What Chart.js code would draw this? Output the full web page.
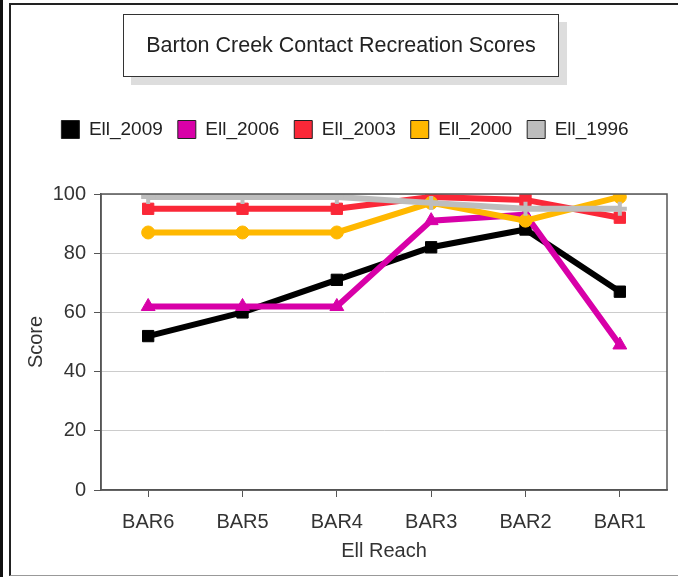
<!DOCTYPE html>
<html>
<head>
<meta charset="utf-8">
<script src="https://cdn.jsdelivr.net/npm/chart.js@4"></script>
<style>
  body { margin: 0; background: #fff; font-family: "Liberation Sans", Arial, sans-serif; }
  #page { position: relative; width: 678px; height: 577px; overflow: hidden; }
  #outerLine { position: absolute; left: 0; top: 0; width: 3px; height: 577px; background: #111; }
  #innerFrame {
    position: absolute; left: 9px; top: 3px; width: 700px; height: 570px;
    border-left: 2px solid #222; border-top: 2px solid #222; border-bottom: 1px solid #999;
  }
  #titleBox {
    position: absolute; left: 123px; top: 14px; width: 434px; height: 61px;
    border: 1px solid #333; background: #fff; box-shadow: 8px 8px 0 #ddd;
    font-size: 21.5px; color: #222; text-align: center; line-height: 61px; white-space: nowrap;
  }
  #wrap { position: absolute; left: 0; top: 0; width: 678px; height: 577px; }
</style>
</head>
<body>
<div id="page">
  <div id="outerLine"></div>
  <div id="innerFrame"></div>
  <div id="wrap"><canvas id="chart"></canvas></div>
  <div id="titleBox">Barton Creek Contact Recreation Scores</div>
</div>
<script>
'use strict';

const reaches = ['BAR6', 'BAR5', 'BAR4', 'BAR3', 'BAR2', 'BAR1'];
const ell2009 = [52, 60, 71, 82, 88, 67];
const ell2006 = [62, 62, 62, 91, 93, 49];
const ell2003 = [95, 95, 95, 99, 98, 92];
const ell2000 = [87, 87, 87, 97, 91, 99];
const ell1996 = [99, 99, 99, 97, 95, 95];

const series = [
  { label: 'Ell_2009', data: ell2009, color: '#000000', point: 'rect', radius: 8 },
  { label: 'Ell_2006', data: ell2006, color: '#d800a8', point: 'triangle', radius: 8 },
  { label: 'Ell_2003', data: ell2003, color: '#fa2838', point: 'rect', radius: 8 },
  { label: 'Ell_2000', data: ell2000, color: '#ffb800', point: 'circle', radius: 6.5 },
  { label: 'Ell_1996', data: ell1996, color: '#bdbdbd', point: 'cross', radius: 7 },
];

const font = "'Liberation Sans', Arial, sans-serif";
const legendGap = 45; // extra room between legend and plot

// frame round the plot area
const plotBox = {
  id: 'plotBox',
  beforeLayout(chart) {
    const lg = chart.legend;
    if (lg && !lg._spaced) {
      const fit = lg.fit.bind(lg);
      lg.fit = function () { fit(); this.height += legendGap; };
      lg._spaced = true;
    }
  },
  afterDraw(chart) {
    const { ctx, chartArea: a } = chart;
    ctx.save();
    ctx.strokeStyle = '#555';
    ctx.lineWidth = 1.5;
    ctx.strokeRect(a.left, a.top, a.right - a.left, a.bottom - a.top);
    ctx.restore();
  }
};

new Chart('chart', {
  type: 'line',
  data: {
    labels: reaches,
    datasets: series.map((s, i) => ({
      label: s.label,
      data: s.data,
      borderColor: s.color,
      backgroundColor: s.color,
      pointBackgroundColor: s.color,
      pointBorderColor: s.color,
      pointStyle: s.point,
      pointRadius: s.radius,
      pointBorderWidth: s.point === 'cross' ? 4 : 1,
      borderWidth: 6,
      tension: 0,
      order: series.length - i,
    }))
  },
  options: {
    responsive: true,
    maintainAspectRatio: false,
    animation: false,
    layout: { padding: { top: 105, left: 22, right: 10, bottom: 12 } },
    plugins: {
      title: { display: false },
      tooltip: { enabled: false },
      legend: {
        position: 'top',
        labels: {
          font: { family: font, size: 19 },
          color: '#222',
          boxWidth: 18,
          boxHeight: 18,
          padding: 15,
          sort: (a, b) => a.datasetIndex - b.datasetIndex,
          generateLabels: chart => chart.data.datasets.map((d, i) => ({
            text: d.label,
            fillStyle: d.backgroundColor,
            strokeStyle: '#222',
            lineWidth: 1,
            datasetIndex: i,
            fontColor: '#222',
          })),
        }
      }
    },
    scales: {
      x: {
        offset: true,
        afterFit: scale => { scale.height = 75; },
        grid: { drawOnChartArea: false, tickLength: 7, tickColor: '#555', offset: false },
        border: { color: '#555', width: 1.5 },
        ticks: { font: { family: font, size: 20 }, color: '#333', padding: 13, maxRotation: 0 },
        title: { display: true, text: 'Ell Reach', font: { family: font, size: 20 }, color: '#333', padding: { top: 2, bottom: 2 } },
      },
      y: {
        min: 0,
        max: 100,
        afterFit: scale => { scale.width = 79; },
        ticks: { stepSize: 20, font: { family: font, size: 20 }, color: '#333', padding: 8 },
        grid: { color: '#ccc', tickLength: 7, tickColor: '#555' },
        border: { color: '#555', width: 1.5 },
        title: { display: true, text: 'Score', font: { family: font, size: 20 }, color: '#333', padding: 2 },
      }
    }
  },
  plugins: [plotBox]
});
</script>
</body>
</html>
